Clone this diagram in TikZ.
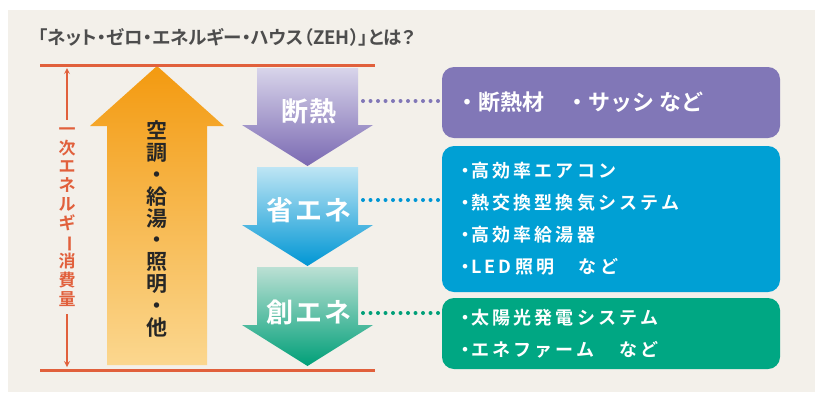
\documentclass[tikz,border=0pt]{standalone}
\usepackage{fontspec}
\newfontfamily\jp{Noto Sans CJK JP}[BoldFont={* Bold}]
\usetikzlibrary{positioning}
\definecolor{zehbg}{HTML}{F3F0EA}
\definecolor{zehred}{HTML}{E1603C}
\definecolor{zehgray}{HTML}{4D4D4D}
\definecolor{zehpurple}{HTML}{8177B7}
\definecolor{zehblue}{HTML}{00A0D4}
\definecolor{zehgreen}{HTML}{00A783}
\definecolor{orangeA}{HTML}{F39A10}
\definecolor{orangeB}{HTML}{FBD78F}
\definecolor{purpleA}{HTML}{D8D4EA}
\definecolor{purpleB}{HTML}{7A69B2}
\definecolor{blueA}{HTML}{BEE5F4}
\definecolor{blueB}{HTML}{0096D4}
\definecolor{greenA}{HTML}{BBE0D4}
\definecolor{greenB}{HTML}{009F78}
\newcommand\zdot{・\kern-3pt}
\tikzset{
  infobox/.style={rounded corners=12pt, inner xsep=14pt, inner ysep=0pt, text width=310pt,
    align=left, text=white},
  arrlabel/.style={text=white, inner sep=0pt, font=\jp\bfseries\fontsize{27}{30}\selectfont\addfontfeatures{LetterSpace=6}},
  dotline/.style={line width=4pt, line cap=round, dash pattern=on 0pt off 7.5pt},
}
\begin{document}
\begin{tikzpicture}[x=1pt, y=-1pt, >=stealth, line join=round]
		\useasboundingbox (0,0) rectangle (815,392);
		\fill[zehbg] (8,10) rectangle (815,392);
		% title
		\node[anchor=west, inner sep=0pt, text=zehgray, font=\jp\bfseries\fontsize{18.5}{20}\selectfont\addfontfeatures{RawFeature=+palt}] (title) at (38,37) {「ネット・ゼロ・エネルギー・ハウス（ZEH）」とは？};
		% energy consumption
		\shade[top color=orangeA, bottom color=orangeB] (107,365) -- (107,126) -- (90,126) -- (157,66) -- (224,126) -- (207,126) -- (207,365) -- cycle;
		\node[align=center, inner sep=0pt, text=black!85, font=\jp\bfseries\fontsize{21}{21.9}\selectfont] (use) at (157,229) {空\\調\\・\\給\\湯\\・\\照\\明\\・\\他};
		% down arrows
		\shade[top color=purpleA, bottom color=purpleB] (257,68) -- (358,68) -- (358,125) -- (373,125) -- (307.5,166) -- (242,125) -- (257,125) -- cycle;
		\shade[top color=blueA, bottom color=blueB] (257,167) -- (358,167) -- (358,225) -- (373,225) -- (307.5,266) -- (242,225) -- (257,225) -- cycle;
		\shade[top color=greenA, bottom color=greenB] (257,267) -- (358,267) -- (358,325) -- (373,325) -- (307.5,366) -- (242,325) -- (257,325) -- cycle;
		\node[arrlabel] (dan) at (309,111) {断熱};
		\node[arrlabel] (sho) at (309,210) {省エネ};
		\node[arrlabel] (sou) at (309,312) {創エネ};
		% limits
		\draw[zehred, line width=3pt] (40,65) coordinate (top) -- (375,65);
		\draw[zehred, line width=3pt] (40,370) coordinate (bot) -- (375,370);
		\node[align=center, inner sep=0pt, text=zehred, font=\jp\bfseries\fontsize{17}{18.7}\selectfont] (amount) at (67,217) {一\\次\\エ\\ネ\\ル\\ギ\\\rotatebox[origin=c]{-90}{ー}\\消\\費\\量};
		\draw[zehred, line width=1.6pt, ->] (amount.north) ++(0,-8) -- (67,68);
		\draw[zehred, line width=1.6pt, ->] (amount.south) ++(0,8) -- (67,367);
		% boxes
		\node[infobox, fill=zehpurple, minimum height=71pt, font=\jp\bfseries\fontsize{22}{26}\selectfont] (b1) at (611,102.5) {・断熱材　・サッシ\hspace{6pt}など};
		\node[infobox, fill=zehblue, minimum height=146pt, font=\jp\bfseries\fontsize{18}{32}\selectfont\addfontfeatures{LetterSpace=18}] (b2) at (611,219) {\zdot 高効率エアコン\\\zdot 熱交換型換気システム\\\zdot 高効率給湯器\\\zdot LED照明　など};
		\node[infobox, fill=zehgreen, minimum height=71pt, font=\jp\bfseries\fontsize{18}{32}\selectfont\addfontfeatures{LetterSpace=18}] (b3) at (611,333.5) {\zdot 太陽光発電システム\\\zdot エネファーム　など};
		% dotted connectors
		\coordinate (c1) at (363,101);
		\coordinate (c2) at (363,200);
		\coordinate (c3) at (363,313);
		\draw[dotline, zehpurple] (c1) -- ([xshift=-3pt]c1 -| b1.west);
		\draw[dotline, blueB] (c2) -- ([xshift=-3pt]c2 -| b2.west);
		\draw[dotline, greenB] (c3) -- ([xshift=-3pt]c3 -| b3.west);
\end{tikzpicture}
\end{document}
